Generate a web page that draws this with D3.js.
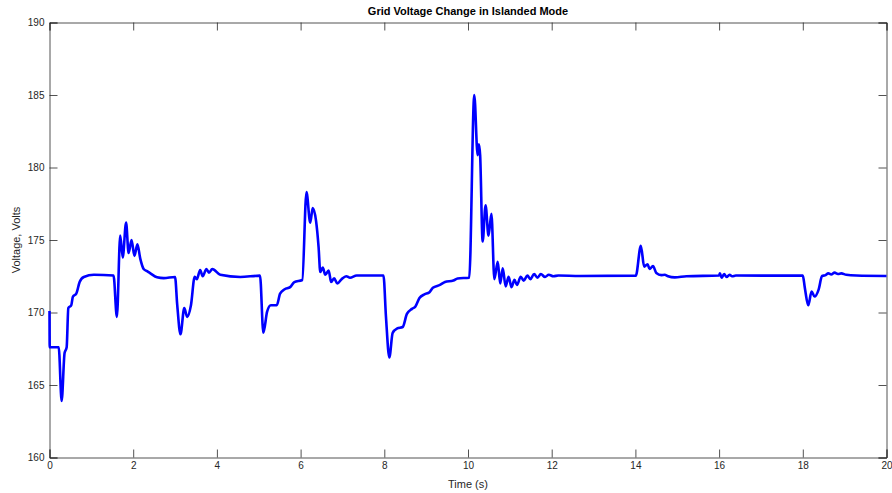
<!DOCTYPE html>
<html>
<head>
<meta charset="utf-8">
<script src="https://cdn.jsdelivr.net/npm/d3@7"></script>
<style>
  html, body { margin: 0; padding: 0; background: #fff; }
  svg { display: block; font-family: "Liberation Sans", Arial, Helvetica, sans-serif; }
</style>
</head>
<body>
<svg id="chart" width="892" height="493"></svg>
<script>
// Grid voltage (V) over time (s) while running islanded
const timeSec = [
  0, 0.005, 0.22, 0.29, 0.36, 0.41, 0.45, 0.52, 0.56, 0.64, 0.72, 0.82, 1.06, 1.53,
  1.61, 1.69, 1.75, 1.83, 1.89, 1.96, 2.03, 2.10, 2.17, 2.25, 2.33, 2.41, 2.57, 2.73, 3.0,
  3.05, 3.13, 3.22, 3.29, 3.38, 3.47, 3.52, 3.6, 3.66, 3.75, 3.81, 3.89, 4.08, 4.56, 5.03,
  5.11, 5.2, 5.29, 5.43, 5.51, 5.62, 5.75, 5.85, 6.04,
  6.14, 6.23, 6.29, 6.37, 6.43, 6.47, 6.53, 6.59, 6.67, 6.73, 6.8, 6.88, 6.98, 7.09, 7.18, 7.34, 7.98,
  8.04, 8.12, 8.2, 8.31, 8.44, 8.54, 8.66, 8.74, 8.84, 8.96, 9.08, 9.16, 9.33, 9.45, 9.65, 9.75, 10.03,
  10.15, 10.23, 10.26, 10.29, 10.35, 10.42, 10.49, 10.56, 10.63, 10.71, 10.77, 10.83, 10.9, 10.97,
  11.04, 11.11, 11.17, 11.26, 11.33, 11.42, 11.49, 11.58, 11.66, 11.74, 11.84, 11.93, 12.04, 12.16, 12.67,
  14.01, 14.13, 14.21, 14.29, 14.34, 14.42, 14.5, 14.62, 14.7, 14.78, 14.94, 15.22,
  16.0, 16.02, 16.06, 16.12, 16.18, 16.25, 16.31, 16.4, 18.0,
  18.05, 18.13, 18.21, 18.28, 18.38, 18.46, 18.53, 18.61, 18.68, 18.76, 18.84, 18.92, 19.04, 19.28, 20
];
const voltage = [
  170.1, 167.6, 167.6, 163.9, 167.2, 167.6, 170.3, 170.5, 171.1, 171.3, 172.1, 172.45, 172.6, 172.55,
  169.7, 175.3, 173.8, 176.2, 174.1, 175.0, 173.9, 174.7, 173.7, 173.0, 172.85, 172.7, 172.43, 172.37, 172.45,
  170.6, 168.5, 170.3, 169.7, 170.5, 172.47, 172.3, 172.93, 172.5, 173.0, 172.75, 173.0, 172.6, 172.45, 172.54,
  168.6, 170.06, 170.5, 170.5, 171.3, 171.6, 171.75, 172.1, 172.24,
  178.3, 176.2, 177.2, 176.3, 174.5, 172.8, 173.1, 172.6, 172.9, 172.1, 172.36, 172.0, 172.3, 172.5, 172.4, 172.55, 172.55,
  169.7, 166.9, 168.6, 168.9, 169.0, 169.9, 170.25, 170.4, 171.0, 171.25, 171.4, 171.7, 171.9, 172.1, 172.2, 172.35, 172.4,
  185.0, 180.85, 181.6, 180.85, 174.9, 177.4, 175.3, 176.8, 172.3, 173.5, 172.0, 173.05, 171.8, 172.47,
  171.75, 172.25, 171.9, 172.47, 172.2, 172.55, 172.3, 172.65, 172.4, 172.65, 172.45, 172.6, 172.5, 172.55, 172.52,
  172.54, 174.6, 173.16, 173.33, 173.0, 173.2, 172.73, 172.58, 172.6, 172.5, 172.42, 172.5,
  172.55, 172.7, 172.4, 172.65, 172.45, 172.6, 172.5, 172.55, 172.54,
  171.67, 170.5, 171.44, 171.1, 171.6, 172.52, 172.56, 172.7, 172.62, 172.75, 172.66, 172.7, 172.6, 172.55, 172.52
];
const xTicks = [0, 2, 4, 6, 8, 10, 12, 14, 16, 18, 20];
const yTicks = [160, 165, 170, 175, 180, 185, 190];

const titleText = "Grid Voltage Change in Islanded Mode";
const xLabel = "Time (s)";
const yLabel = "Voltage, Volts";

const W = 892, H = 493;
const m = { left: 49.5, right: 5.5, top: 22.5, bottom: 35.5 };
const pw = W - m.left - m.right, ph = H - m.top - m.bottom;

const svg = d3.select("#chart");
const g = svg.append("g").attr("transform", `translate(${m.left},${m.top})`);

const x = d3.scaleLinear().domain([0, 20]).range([0, pw]);
const y = d3.scaleLinear().domain([160, 190]).range([ph, 0]);

const axisColor = "#262626";
const tickLen = 8;

// bottom axis with inward ticks
const xAxis = g.append("g").attr("transform", `translate(0,${ph})`)
  .call(d3.axisBottom(x).tickValues(xTicks).tickSize(-tickLen).tickPadding(4).tickFormat(d3.format("d")));
// top mirror ticks
const xTop = g.append("g")
  .call(d3.axisTop(x).tickValues(xTicks).tickSize(-tickLen).tickFormat(""));
// left axis
const yAxis = g.append("g")
  .call(d3.axisLeft(y).tickValues(yTicks).tickSize(-tickLen).tickPadding(5).tickFormat(d3.format("d")));
// right mirror ticks
const yRight = g.append("g").attr("transform", `translate(${pw},0)`)
  .call(d3.axisRight(y).tickValues(yTicks).tickSize(-tickLen).tickFormat(""));

[xAxis, xTop, yAxis, yRight].forEach(a => {
  a.select(".domain").attr("stroke", axisColor).attr("stroke-width", 0.8);
  a.selectAll(".tick line").attr("stroke", axisColor).attr("stroke-width", 0.8);
  a.selectAll(".tick text").attr("fill", axisColor).style("font-size", "10px")
    .style("font-family", "'Liberation Sans', Arial, sans-serif");
});

// voltage trace
const line = d3.line()
  .x((d, i) => x(timeSec[i]))
  .y(d => y(d))
  .curve(d3.curveMonotoneX);
g.append("path")
  .datum(voltage)
  .attr("fill", "none")
  .attr("stroke", "#0000ff")
  .attr("stroke-width", 2.6)
  .attr("stroke-linejoin", "round")
  .attr("d", line);

// title and axis labels
svg.append("text")
  .attr("x", m.left + pw / 2).attr("y", 15)
  .attr("text-anchor", "middle")
  .attr("fill", "#000")
  .style("font-size", "11px").style("font-weight", "bold")
  .text(titleText);

svg.append("text")
  .attr("x", m.left + pw / 2).attr("y", 488)
  .attr("text-anchor", "middle")
  .attr("fill", axisColor)
  .style("font-size", "11px")
  .text(xLabel);

svg.append("text")
  .attr("transform", `translate(20,${m.top + ph / 2}) rotate(-90)`)
  .attr("text-anchor", "middle")
  .attr("fill", axisColor)
  .style("font-size", "11px")
  .text(yLabel);
</script>
</body>
</html>
